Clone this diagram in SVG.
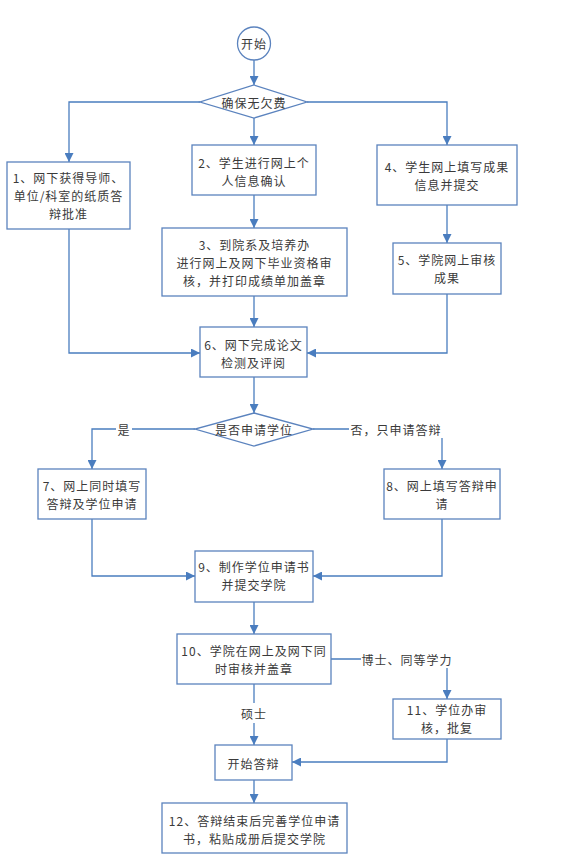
<svg xmlns="http://www.w3.org/2000/svg" width="567" height="861" viewBox="0 0 567 861">
<style>
.n{fill:#fff;stroke:#5B83BE;stroke-width:1.3}
.c{fill:none;stroke:#4A7DBF;stroke-width:1.3}
text{font-family:"Noto Sans CJK SC","Noto Sans",sans-serif;font-size:12px;letter-spacing:1px;fill:#3a3a3a;text-anchor:middle;dominant-baseline:central}
.lb{fill:#fff;stroke:none}
</style>
<defs>
<marker id="ah" markerUnits="userSpaceOnUse" markerWidth="9" markerHeight="9" refX="9" refY="4.5" orient="auto">
<path d="M0,0 L9,4.5 L0,9 z" fill="#4A7DBF"/>
</marker>
</defs>
<rect width="567" height="861" fill="#fff"/>
<g id="connectors">
<line class="c" x1="254" y1="60" x2="254" y2="85" marker-end="url(#ah)"/>
<polyline class="c" points="200,102 69,102 69,162" marker-end="url(#ah)"/>
<line class="c" x1="254" y1="118" x2="254" y2="145" marker-end="url(#ah)"/>
<polyline class="c" points="307,102 447,102 447,145" marker-end="url(#ah)"/>
<line class="c" x1="254" y1="195" x2="254" y2="228" marker-end="url(#ah)"/>
<line class="c" x1="447" y1="205" x2="447" y2="243" marker-end="url(#ah)"/>
<polyline class="c" points="69,229 69,353 200,353" marker-end="url(#ah)"/>
<line class="c" x1="254" y1="296" x2="254" y2="327" marker-end="url(#ah)"/>
<polyline class="c" points="447,294 447,353 307,353" marker-end="url(#ah)"/>
<line class="c" x1="254" y1="377" x2="254" y2="413" marker-end="url(#ah)"/>
<polyline class="c" points="195,429 92,429 92,469" marker-end="url(#ah)"/>
<polyline class="c" points="313,429 442,429 442,469" marker-end="url(#ah)"/>
<polyline class="c" points="92,519 92,576 195,576" marker-end="url(#ah)"/>
<polyline class="c" points="442,519 442,576 313,576" marker-end="url(#ah)"/>
<line class="c" x1="254" y1="602" x2="254" y2="634" marker-end="url(#ah)"/>
<polyline class="c" points="331,659 447,659 447,699" marker-end="url(#ah)"/>
<line class="c" x1="254" y1="684" x2="254" y2="745" marker-end="url(#ah)"/>
<polyline class="c" points="447,739 447,762 292,762" marker-end="url(#ah)"/>
<line class="c" x1="254" y1="780" x2="254" y2="803" marker-end="url(#ah)"/>
<rect class="lb" x="116" y="420" width="16" height="18"/>
<text x="124" y="429">是</text>
<rect class="lb" x="349" y="420" width="94" height="18"/>
<text x="396" y="429">否，只申请答辩</text>
<rect class="lb" x="361" y="650" width="93" height="18"/>
<text x="407" y="659">博士、同等学力</text>
<rect class="lb" x="240" y="703" width="28" height="20"/>
<text x="254" y="713">硕士</text>
</g>
<g id="start">
<circle class="n" cx="254" cy="43.5" r="16.5"/>
<text x="254" y="43">开始</text>
</g>
<g id="fee">
<polygon class="n" points="254,85 307,102 254,118 200,102"/>
<text x="254" y="102">确保无欠费</text>
</g>
<g id="n1">
<rect class="n" x="7" y="162" width="123" height="67"/>
<text x="68.5" y="177">1、网下获得导师、</text>
<text x="68.5" y="195">单位/科室的纸质答</text>
<text x="68.5" y="213">辩批准</text>
</g>
<g id="n2">
<rect class="n" x="192" y="145" width="124" height="50"/>
<text x="254" y="162.5">2、学生进行网上个</text>
<text x="254" y="180.5">人信息确认</text>
</g>
<g id="n4">
<rect class="n" x="377" y="145" width="140" height="60"/>
<text x="447" y="166.5">4、学生网上填写成果</text>
<text x="447" y="184.5">信息并提交</text>
</g>
<g id="n3">
<rect class="n" x="162" y="228" width="185" height="68"/>
<text x="254.5" y="244">3、到院系及培养办</text>
<text x="254.5" y="262">进行网上及网下毕业资格审</text>
<text x="254.5" y="280">核，并打印成绩单加盖章</text>
</g>
<g id="n5">
<rect class="n" x="393" y="243" width="108" height="51"/>
<text x="447" y="259.5">5、学院网上审核</text>
<text x="447" y="277.5">成果</text>
</g>
<g id="n6">
<rect class="n" x="200" y="327" width="107" height="50"/>
<text x="253.5" y="344">6、网下完成论文</text>
<text x="253.5" y="362">检测及评阅</text>
</g>
<g id="apply">
<polygon class="n" points="254,413 313,429 254,446 195,429"/>
<text x="254" y="429">是否申请学位</text>
</g>
<g id="n7">
<rect class="n" x="38" y="469" width="108" height="50"/>
<text x="92" y="485.5">7、网上同时填写</text>
<text x="92" y="503.5">答辩及学位申请</text>
</g>
<g id="n8">
<rect class="n" x="384" y="469" width="116" height="50"/>
<text x="442" y="485.5">8、网上填写答辩申</text>
<text x="442" y="503.5">请</text>
</g>
<g id="n9">
<rect class="n" x="195" y="551" width="118" height="51"/>
<text x="254" y="566.5">9、制作学位申请书</text>
<text x="254" y="584.5">并提交学院</text>
</g>
<g id="n10">
<rect class="n" x="177" y="634" width="154" height="50"/>
<text x="254" y="650.5">10、学院在网上及网下同</text>
<text x="254" y="668.5">时审核并盖章</text>
</g>
<g id="n11">
<rect class="n" x="393" y="699" width="108" height="40"/>
<text x="447" y="709.5">11、学位办审</text>
<text x="447" y="727.5">核，批复</text>
</g>
<g id="defense">
<rect class="n" x="215" y="745" width="77" height="35"/>
<text x="253.5" y="763">开始答辩</text>
</g>
<g id="n12">
<rect class="n" x="162" y="803" width="185" height="50"/>
<text x="254.5" y="820.5">12、答辩结束后完善学位申请</text>
<text x="254.5" y="838.5">书，粘贴成册后提交学院</text>
</g>
</svg>
